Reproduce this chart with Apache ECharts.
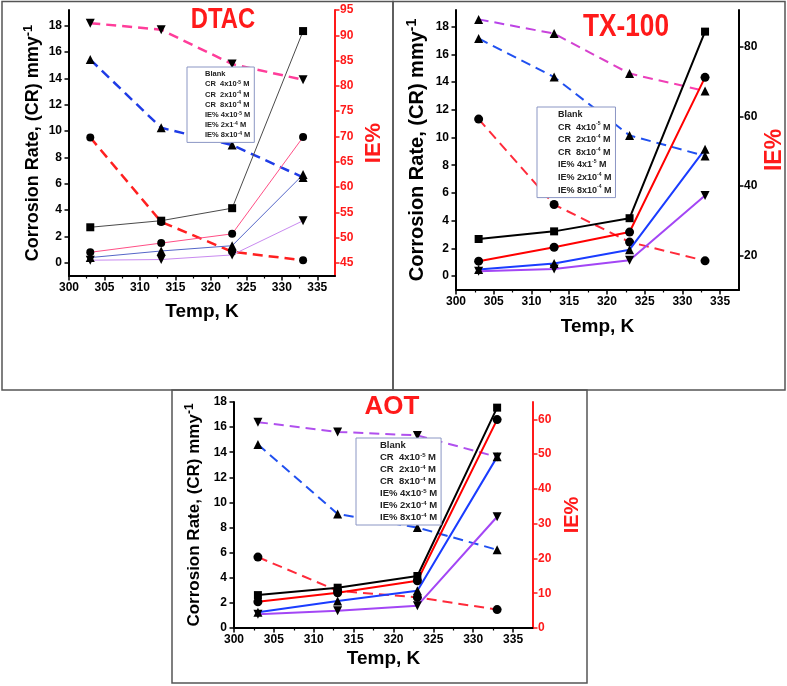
<!DOCTYPE html>
<html>
<head>
<meta charset="utf-8">
<script src="https://cdn.jsdelivr.net/npm/echarts@6/dist/echarts.min.js"></script>
<style>html,body{margin:0;padding:0;background:#fff}#c{width:787px;height:686px}</style>
</head>
<body>
<div id="c"></div>
<script>
// ---------- data ----------
const temps = [303, 313, 323, 333];

// DTAC
const dtacBlank = [2.7, 3.2, 4.15, 17.6];
const dtacCR4e5 = [0.8, 1.5, 2.2, 9.55];
const dtacCR2e4 = [0.4, 0.9, 1.3, 6.7];
const dtacCR8e4 = [0.2, 0.25, 0.6, 3.2];
const dtacIE4e5 = [69.8, 53.1, 47.2, 45.5];
const dtacIE2e4 = [85.2, 71.7, 68.3, 61.9];
const dtacIE8e4 = [92.4, 91.1, 84.3, 81.2];

// TX-100
const txBlank = [2.68, 3.23, 4.18, 17.64];
const txCR4e5 = [1.08, 2.08, 3.18, 14.34];
const txCR2e4 = [0.48, 0.91, 1.91, 9.16];
const txCR8e4 = [0.35, 0.52, 1.15, 5.81];
const txIE4e5 = [59.2, 34.6, 23.8, 18.4];
const txIE2e4 = [82.4, 71.3, 54.5, 48.6];
const txIE8e4 = [87.9, 83.8, 72.3, 67.3];

// AOT
const aotBlank = [2.62, 3.21, 4.14, 17.55];
const aotCR4e5 = [2.09, 2.81, 3.76, 16.6];
const aotCR2e4 = [1.25, 2.15, 2.97, 13.63];
const aotCR8e4 = [1.09, 1.38, 1.78, 8.86];
const aotIE4e5 = [20.4, 10.7, 8.8, 5.3];
const aotIE2e4 = [52.8, 32.8, 28.9, 22.5];
const aotIE8e4 = [59.2, 56.4, 55.4, 49.2];

// legend names
const namesDTAC = ['Blank', 'CR  4x10^-5 M', 'CR  2x10^-4 M', 'CR  8x10^-4 M', 'IE% 4x10^-5 M', 'IE% 2x1^-4 M', 'IE% 8x10^-4 M'];
const namesTX = ['Blank', 'CR  4x10^-5 M', 'CR  2x10^-4 M', 'CR  8x10^-4 M', 'IE% 4x1^-5 M', 'IE% 2x10^-4 M', 'IE% 8x10^-4 M'];
const namesAOT = ['Blank', 'CR  4x10^-5 M', 'CR  2x10^-4 M', 'CR  8x10^-4 M', 'IE% 4x10^-5 M', 'IE% 2x10^-4 M', 'IE% 8x10^-4 M'];

const xTicks = [300, 305, 310, 315, 320, 325, 330, 335];
const crTicks = [0, 2, 4, 6, 8, 10, 12, 14, 16, 18];
const ieTicksDTAC = [45, 50, 55, 60, 65, 70, 75, 80, 85, 90, 95];
const ieTicksTX = [20, 40, 60, 80];
const ieTicksAOT = [0, 10, 20, 30, 40, 50, 60];

// ---------- helpers ----------
const SANS = '"Liberation Sans",Arial,sans-serif';
const pair = arr => temps.map((t, i) => [t, arr[i]]);

function ser(name, arr, xi, yi, color, width, dashed, symbol, size) {
  return {
    type: 'line', name: name, data: pair(arr),
    xAxisIndex: xi, yAxisIndex: yi,
    symbol: symbol === 'down' ? 'triangle' : symbol,
    symbolRotate: symbol === 'down' ? 180 : 0,
    symbolSize: size, showSymbol: true,
    itemStyle: { color: '#000' },
    lineStyle: { color: color, width: width, type: dashed ? [10, 6] : 'solid' },
    emphasis: { disabled: true }, animation: false, z: dashed ? 2 : 3
  };
}

function xAx(gi, gap) {
  return {
    type: 'value', gridIndex: gi, min: 300, max: 337.5, interval: 5,
    name: 'Temp, K', nameLocation: 'middle', nameGap: gap,
    nameTextStyle: { fontFamily: SANS, fontWeight: 'bold', fontSize: 19, color: '#000' },
    axisLine: { show: true, onZero: false, lineStyle: { color: '#000', width: 2 } },
    axisTick: { show: true, length: 4.5, lineStyle: { color: '#000', width: 1.5 }, customValues: xTicks },
    minorTick: { show: true, splitNumber: 2, length: 2.5, lineStyle: { color: '#000', width: 1.2 } },
    axisLabel: { customValues: xTicks, fontFamily: SANS, fontWeight: 'bold', fontSize: 12, color: '#000', margin: 6 },
    splitLine: { show: false }, minorSplitLine: { show: false }
  };
}

function crAx(gi, min, max, gap, fs) {
  return {
    type: 'value', gridIndex: gi, position: 'left', min: min, max: max,
    name: 'Corrosion Rate, (CR) mmy{sup|-1}', nameLocation: 'middle', nameGap: gap,
    nameTextStyle: { fontFamily: SANS, fontWeight: 'bold', fontSize: fs, color: '#000',
      rich: { sup: { fontFamily: SANS, fontWeight: 'bold', fontSize: Math.round(fs * 0.7), color: '#000', verticalAlign: 'top', padding: [0, 0, Math.round(fs * 0.5), 0] } } },
    axisLine: { show: true, onZero: false, lineStyle: { color: '#000', width: 2 } },
    axisTick: { show: true, length: 4.5, lineStyle: { color: '#000', width: 1.5 }, customValues: crTicks },
    axisLabel: { customValues: crTicks, fontFamily: SANS, fontWeight: 'bold', fontSize: 12, color: '#000', margin: 7 },
    splitLine: { show: false }
  };
}

function ieAx(gi, min, max, ticks, gap, fs, axColor, labColor) {
  return {
    type: 'value', gridIndex: gi, position: 'right', min: min, max: max,
    name: 'IE%', nameLocation: 'middle', nameGap: gap,
    nameTextStyle: { fontFamily: SANS, fontWeight: 'bold', fontSize: fs, color: '#ff1a1a' },
    axisLine: { show: true, onZero: false, lineStyle: { color: axColor, width: 2 } },
    axisTick: { show: true, length: 4.5, lineStyle: { color: axColor, width: 1.5 }, customValues: ticks },
    axisLabel: { customValues: ticks, fontFamily: SANS, fontWeight: 'bold', fontSize: 12, color: labColor, margin: 5 },
    splitLine: { show: false }
  };
}

const supFmt = n => n.replace(/\^(-\d)/, '{sup|$1}');

function leg(names, left, top, fs, iw, gap, pad, lh) {
  return {
    data: names, orient: 'vertical', left: left, top: top, icon: 'none',
    itemWidth: iw, itemHeight: 4, itemGap: gap, padding: pad, selectedMode: false,
    backgroundColor: '#fff', borderColor: '#8b96c4', borderWidth: 1, borderRadius: 0,
    formatter: supFmt,
    textStyle: { fontFamily: SANS, fontWeight: 'bold', fontSize: fs, color: '#222', lineHeight: lh,
      rich: { sup: { fontFamily: SANS, fontWeight: 'bold', fontSize: Math.round(fs * 0.6), color: '#222', verticalAlign: 'top', lineHeight: lh } } }
  };
}

const series = [
  // DTAC
  ser(namesDTAC[0], dtacBlank, 0, 0, '#4a4a4a', 1, false, 'rect', 8),
  ser(namesDTAC[1], dtacCR4e5, 0, 0, '#ff4f86', 1, false, 'circle', 8),
  ser(namesDTAC[2], dtacCR2e4, 0, 0, '#5566c8', 1, false, 'triangle', 9),
  ser(namesDTAC[3], dtacCR8e4, 0, 0, '#c98af0', 1, false, 'down', 9),
  ser(namesDTAC[4], dtacIE4e5, 0, 1, '#ff2020', 2.5, true, 'circle', 8),
  ser(namesDTAC[5], dtacIE2e4, 0, 1, '#1f3ce6', 2.5, true, 'triangle', 9),
  ser(namesDTAC[6], dtacIE8e4, 0, 1, '#ff3d9a', 2.5, true, 'down', 9),
  // TX-100
  ser(namesTX[0], txBlank, 1, 2, '#000000', 2, false, 'rect', 8),
  ser(namesTX[1], txCR4e5, 1, 2, '#ff0000', 2, false, 'circle', 9),
  ser(namesTX[2], txCR2e4, 1, 2, '#1a3cff', 2, false, 'triangle', 9),
  ser(namesTX[3], txCR8e4, 1, 2, '#a346f5', 2, false, 'down', 9),
  ser(namesTX[4], txIE4e5, 1, 3, '#ff2a3a', 2, true, 'circle', 9),
  ser(namesTX[5], txIE2e4, 1, 3, '#2050f0', 2, true, 'triangle', 9),
  ser(namesTX[6], txIE8e4, 1, 3, '#c048e8', 2, true, 'triangle', 9),
  // AOT
  ser(namesAOT[0], aotBlank, 2, 4, '#000000', 2, false, 'rect', 8),
  ser(namesAOT[1], aotCR4e5, 2, 4, '#ff0000', 2, false, 'circle', 9),
  ser(namesAOT[2], aotCR2e4, 2, 4, '#1a3cff', 2, false, 'triangle', 9),
  ser(namesAOT[3], aotCR8e4, 2, 4, '#a346f5', 2, false, 'down', 9),
  ser(namesAOT[4], aotIE4e5, 2, 5, '#ff2a3a', 2, true, 'circle', 9),
  ser(namesAOT[5], aotIE2e4, 2, 5, '#2050f0', 2, true, 'triangle', 9),
  ser(namesAOT[6], aotIE8e4, 2, 5, '#b050ee', 2, true, 'down', 9)
];
// violet -> pink gradient for TX-100 top dashed line
series[13].lineStyle.color = new echarts.graphic.LinearGradient(0, 0, 1, 0, [
  { offset: 0, color: '#b044f0' }, { offset: 1, color: '#ff3fa8' }]);

const option = {
  backgroundColor: '#fff',
  animation: false,
  grid: [
    { left: 69, top: 10, width: 266, height: 266 },
    { left: 456, top: 10, width: 286, height: 280 },
    { left: 234, top: 402, width: 299, height: 226 }
  ],
  xAxis: [xAx(0, 26), xAx(1, 27), xAx(2, 21)],
  yAxis: [
    crAx(0, -1, 19.2, 25, 18),
    ieAx(0, 42.4, 95, ieTicksDTAC, 28, 22, '#ff1a1a', '#ff1a1a'),
    crAx(1, -1, 19.2, 27, 20),
    ieAx(1, 10, 90.6, ieTicksTX, 24, 23, '#000', '#000'),
    crAx(2, 0, 18, 29, 17),
    ieAx(2, 0, 65, ieTicksAOT, 29, 20, '#ff1a1a', '#ff1a1a')
  ],
  legend: [
    leg(namesDTAC, 187, 67, 7.5, 11, 2, [3, 4, 3, 2], 8.2),
    leg(namesTX, 537, 107, 9, 13, 1.6, [2, 4, 2, 3], 11),
    leg(namesAOT, 356, 438, 9.5, 16, 1, [2, 4, 2, 3], 11)
  ],
  graphic: [
    { type: 'rect', shape: { x: 2, y: 1.5, width: 391, height: 388.5 }, style: { fill: 'none', stroke: '#555', lineWidth: 1.5 }, silent: true, z: -1 },
    { type: 'rect', shape: { x: 393, y: 1.5, width: 392, height: 388.5 }, style: { fill: 'none', stroke: '#555', lineWidth: 1.5 }, silent: true, z: -1 },
    { type: 'rect', shape: { x: 172, y: 390, width: 415, height: 293 }, style: { fill: 'none', stroke: '#555', lineWidth: 1.5 }, silent: true, z: -1 },
    { type: 'text', x: 223, y: 20, scaleX: 0.82, style: { text: 'DTAC', fill: '#ff1a1a', font: 'bold 29px ' + SANS, align: 'center', verticalAlign: 'middle' }, z: 10 },
    { type: 'text', x: 626, y: 27, scaleX: 0.82, style: { text: 'TX-100', fill: '#ff1a1a', font: 'bold 32px ' + SANS, align: 'center', verticalAlign: 'middle' }, z: 10 },
    { type: 'text', x: 392, y: 407, style: { text: 'AOT', fill: '#ff1a1a', font: 'bold 26px ' + SANS, align: 'center', verticalAlign: 'middle' }, z: 10 }
  ],
  series: series
};

const chart = echarts.init(document.getElementById('c'), null, { renderer: 'canvas', width: 787, height: 686 });
chart.setOption(option);
</script>
</body>
</html>
